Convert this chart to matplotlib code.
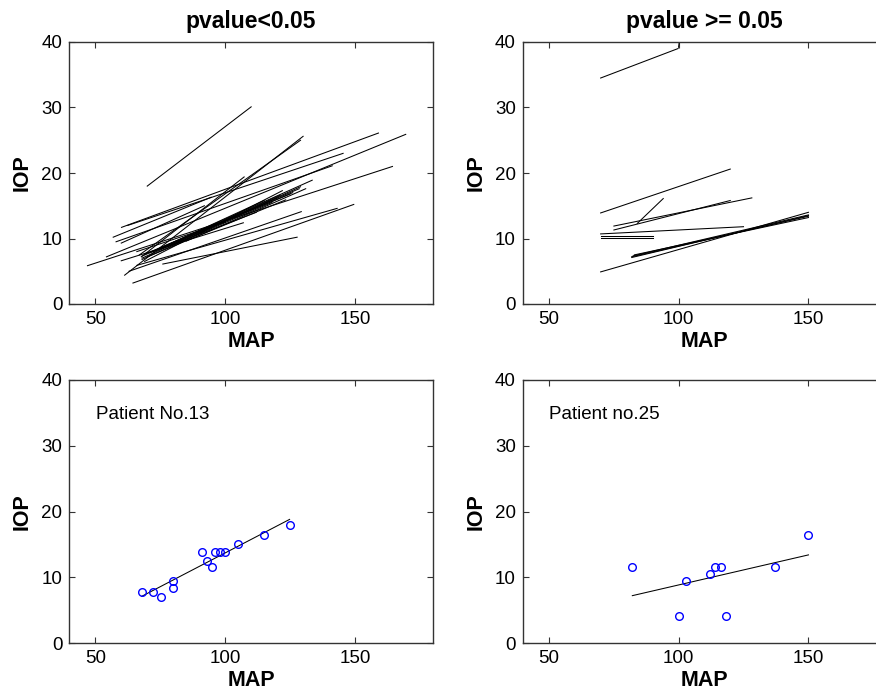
import numpy as np
import matplotlib
matplotlib.use("Agg")
import matplotlib.pyplot as plt

plt.rcParams['font.family'] = ['Liberation Sans', 'DejaVu Sans']

# ---------------- data ----------------
# top-left: per-patient regression lines with p < 0.05  (MAP start, IOP start, MAP end, IOP end)
sig_x0 = [70.0, 61.3, 67.0, 60.1, 54.3, 62.5, 58.0, 47.0, 68.0, 68.0, 69.0, 70.0, 72.0, 68.0, 75.0, 80.0,
          67.7, 56.9, 60.0, 64.5, 66.0, 63.0, 76.0, 60.0, 71.0, 74.0, 69.0, 78.0, 85.0, 66.0]
sig_y0 = [18.0, 4.4, 7.5, 11.7, 7.2, 12.0, 9.5, 5.85, 7.3, 7.0, 7.6, 7.2, 8.0, 6.8, 8.5, 9.0,
          7.2, 10.2, 9.3, 3.2, 5.9, 5.0, 6.1, 6.6, 7.8, 8.2, 6.5, 8.8, 9.6, 8.0]
sig_x1 = [110.0, 130.0, 129.0, 159.0, 169.5, 145.4, 141.2, 164.4, 133.5, 129.0, 128.5, 123.3, 125.0, 120.0, 115.0, 118.0,
          107.3, 94.6, 92.0, 149.5, 143.1, 129.3, 127.7, 107.0, 126.0, 112.0, 122.0, 121.0, 131.0, 100.0]
sig_y1 = [30.1, 25.6, 25.0, 26.1, 25.9, 23.0, 21.1, 21.0, 18.9, 17.9, 17.6, 15.9, 16.8, 16.2, 15.8, 15.5,
          19.4, 16.3, 15.0, 15.2, 14.6, 14.1, 10.2, 12.4, 17.0, 14.0, 17.3, 16.6, 17.6, 12.5]

# top-right: per-patient regression lines with p >= 0.05
ns_x0 = [70.0, 100.0, 70.0, 75.1, 75.1, 84.1, 70.0, 70.0, 70.0, 81.9, 82.5, 83.0, 82.0, 70.0]
ns_y0 = [34.5, 39.2, 13.9, 11.9, 11.3, 12.3, 10.7, 10.35, 10.1, 7.2, 7.35, 7.5, 7.1, 4.9]
ns_x1 = [99.8, 100.4, 119.9, 128.2, 119.9, 94.1, 125.0, 90.0, 90.0, 150.0, 150.0, 150.0, 150.0, 150.0]
ns_y1 = [39.0, 40.5, 20.6, 16.2, 15.8, 16.1, 11.8, 10.35, 10.1, 13.4, 13.6, 13.2, 13.5, 14.0]

# bottom-left: Patient No.13 observations and fitted line
p13_map = [67.9, 72.2, 75.2, 80.1, 80.1, 91.1, 93.0, 94.9, 95.9, 97.9, 99.8, 105.0, 114.8, 124.8]
p13_iop = [7.72, 7.72, 7.06, 9.44, 8.43, 13.8, 12.5, 11.5, 13.8, 13.8, 13.8, 15.1, 16.5, 17.9]
p13_fit_map = [67.9, 124.8]
p13_fit_iop = [7.1, 18.8]

# bottom-right: Patient no.25 observations and fitted line
p25_map = [82.2, 100.1, 102.9, 112.0, 114.0, 116.3, 118.1, 137.0, 150.0]
p25_iop = [11.5, 4.13, 9.44, 10.45, 11.5, 11.5, 4.13, 11.5, 16.5]
p25_fit_map = [82.2, 150.0]
p25_fit_iop = [7.2, 13.4]

x_ticks = [50, 100, 150]
y_ticks = [0, 10, 20, 30, 40]
x_lim = (40, 180)
y_lim = (0, 40)

titles = ['pvalue<0.05', 'pvalue >= 0.05']
patient_labels = ['Patient No.13', 'Patient no.25']

# ---------------- figure ----------------
W, H = 876, 692
fig = plt.figure(figsize=(W / 100, H / 100), dpi=100)

def px_axes(x0, y0, x1, y1):
    return fig.add_axes([x0 / W, 1 - y1 / H, (x1 - x0) / W, (y1 - y0) / H])

ax_tl = px_axes(69.3, 42, 433, 304)
ax_tr = px_axes(522.7, 42, 886.4, 304)
ax_bl = px_axes(69.3, 380, 433, 643)
ax_br = px_axes(522.7, 380, 886.4, 643)

for ax in (ax_tl, ax_tr, ax_bl, ax_br):
    ax.set_xlim(*x_lim)
    ax.set_ylim(*y_lim)
    ax.set_xticks(x_ticks)
    ax.set_yticks(y_ticks)
    ax.tick_params(direction='in', top=True, right=True, length=4, width=0.8,
                   color='#333333', labelsize=13.5, pad=5)
    for s in ax.spines.values():
        s.set_color('#333333')
        s.set_linewidth(1.0)
    ax.set_xlabel('MAP', fontsize=15.5, fontweight='bold', labelpad=2)
    ax.set_ylabel('IOP', fontsize=15.5, fontweight='bold', labelpad=6)

for a, b, c, d in zip(sig_x0, sig_y0, sig_x1, sig_y1):
    ax_tl.plot([a, c], [b, d], color='black', lw=0.75)
for a, b, c, d in zip(ns_x0, ns_y0, ns_x1, ns_y1):
    ax_tr.plot([a, c], [b, d], color='black', lw=0.75)

ax_tl.set_title(titles[0], fontsize=16.5, fontweight='bold', pad=10)
ax_tr.set_title(titles[1], fontsize=16.5, fontweight='bold', pad=10)

ax_bl.plot(p13_fit_map, p13_fit_iop, color='black', lw=0.75)
ax_bl.plot(p13_map, p13_iop, 'o', mfc='none', mec='#0000ff', ms=5.5, mew=1.0)
ax_br.plot(p25_fit_map, p25_fit_iop, color='black', lw=0.75)
ax_br.plot(p25_map, p25_iop, 'o', mfc='none', mec='#0000ff', ms=5.5, mew=1.0)

ax_bl.text(50.3, 34.0, patient_labels[0], fontsize=13.5, ha='left', va='baseline')
ax_br.text(50.0, 34.0, patient_labels[1], fontsize=13.5, ha='left', va='baseline')

fig.savefig('out.png', dpi=100, facecolor='white')
